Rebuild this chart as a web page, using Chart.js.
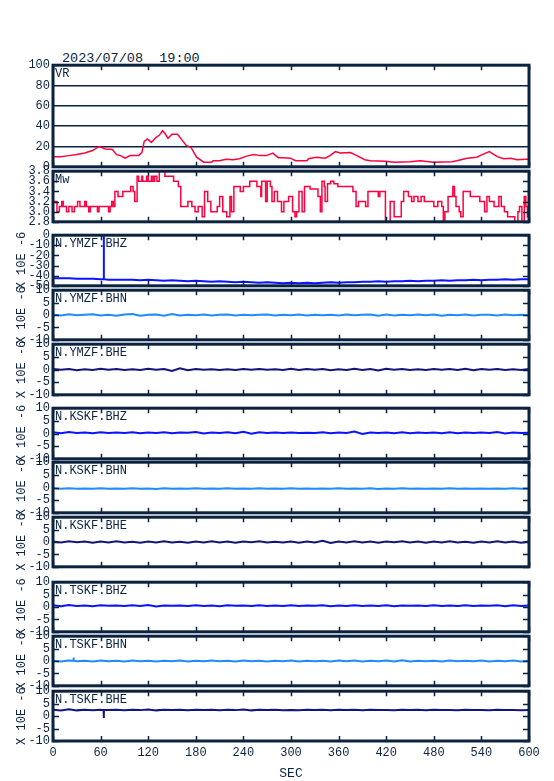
<!DOCTYPE html>
<html>
<head>
<meta charset="utf-8">
<script src="https://cdn.jsdelivr.net/npm/chart.js@4.4.1/dist/chart.umd.min.js"></script>
<style>
  body { margin: 0; background: #fff; width: 554px; height: 781px; position: relative; overflow: hidden; }
  canvas { position: absolute; left: 0; }
  #stamp { position: absolute; left: 62px; top: 51px; font: 13.5px "Liberation Mono", monospace; color: #0b2340; white-space: pre; }
</style>
</head>
<body>
<div id="stamp">2023/07/08  19:00</div>
<script>
// VR (variance reduction, %)
const vrSec = [0, 10, 20, 30, 40, 50, 58, 66, 75, 80, 85, 91, 97, 108, 112, 115, 119, 124, 130, 134,
  138, 141, 145, 150, 157, 162, 168, 174, 181, 190, 200, 202, 210, 218, 227, 235, 244, 253, 261, 269,
  277, 284, 290, 299, 306, 320, 322, 332, 343, 349, 356, 362, 375, 383, 393, 400, 419, 430, 450, 463,
  480, 503, 509, 522, 534, 541, 550, 560, 568, 577, 585, 595, 600];
const vrVal = [10, 10, 11, 12, 13.5, 16, 20, 17.5, 17, 12, 11, 8.5, 11, 11, 14, 25, 27.5, 24, 29, 31,
  35.5, 33, 28, 32, 32, 27, 21, 19, 9.5, 4.5, 4.5, 6, 6, 7.5, 7, 8, 10.5, 12, 11, 11,
  13.5, 9, 9, 8.5, 6, 6, 8, 9.5, 8.5, 11, 15, 13.5, 14, 11, 7, 6, 5.5, 4.5, 5, 6,
  4.5, 5, 6, 8.5, 9.5, 12, 15, 10, 8, 8.5, 7, 7.5, 7.5];

// Mw (stepped: value holds from its time to the next)
const mwSec = [0, 5, 8, 11, 13, 17, 20, 24, 27, 31, 34, 40, 42, 45, 47, 56, 58, 70, 72, 74,
  76, 78, 82, 88, 98, 101, 103, 106, 108, 112, 113, 118, 120, 124, 126, 128, 131, 134, 141, 152,
  158, 161, 170, 175, 179, 183, 188, 191, 195, 199, 207, 210, 214, 219, 223, 225, 228, 236, 240, 248,
  257, 262, 263, 268, 270, 274, 276, 279, 283, 288, 291, 297, 302, 305, 307, 310, 314, 317, 324, 334,
  337, 339, 342, 343, 346, 350, 354, 359, 378, 382, 385, 394, 397, 410, 412, 419, 425, 430, 439, 442,
  448, 452, 455, 460, 464, 468, 480, 485, 490, 492, 494, 498, 504, 506, 508, 512, 514, 517, 526, 538,
  544, 547, 550, 556, 562, 565, 569, 573, 582, 586, 588, 591, 594, 596, 598, 600];
const mwVal = [3.2, 3.0, 3.1, 3.2, 3.1, 3.0, 3.1, 3.0, 3.1, 3.2, 3.1, 3.2, 3.1, 3.0, 3.1, 3.0, 3.1, 3.0, 3.1, 3.2,
  3.1, 3.4, 3.3, 3.4, 3.5, 3.4, 3.2, 3.7, 3.6, 3.7, 3.6, 3.7, 3.6, 3.7, 3.6, 3.7, 3.6, 3.8, 3.7, 3.6,
  3.5, 3.1, 3.2, 3.1, 3.0, 3.1, 2.9, 3.4, 3.2, 3.0, 3.1, 3.3, 3.0, 2.9, 3.3, 3.0, 3.5, 3.4, 3.5, 3.6,
  3.5, 3.3, 3.6, 3.2, 3.6, 3.5, 3.2, 3.4, 3.2, 3.0, 3.2, 3.3, 3.0, 2.9, 3.0, 3.4, 3.0, 3.5, 3.45, 3.3,
  3.0, 3.6, 3.5, 3.2, 3.55, 3.6, 3.55, 3.5, 3.4, 3.1, 3.2, 3.1, 3.4, 3.3, 3.4, 2.8, 3.2, 2.9, 3.2, 3.4,
  3.3, 3.2, 3.3, 3.2, 3.3, 3.2, 3.1, 3.2, 3.1, 2.8, 3.0, 3.3, 3.5, 3.3, 3.1, 3.0, 2.9, 3.4, 3.3, 3.2,
  3.0, 3.3, 3.2, 3.1, 3.3, 3.1, 3.0, 2.9, 2.8, 3.0, 3.1, 2.8, 3.3, 3.1, 2.9, 2.9];

// waveforms, one sample every 10 s from 0 to 600 (x 10E-6)
const waveSec = [0, 10, 20, 30, 40, 50, 60, 70, 80, 90, 100, 110, 120, 130, 140, 150, 160, 170, 180, 190,
  200, 210, 220, 230, 240, 250, 260, 270, 280, 290, 300, 310, 320, 330, 340, 350, 360, 370, 380, 390,
  400, 410, 420, 430, 440, 450, 460, 470, 480, 490, 500, 510, 520, 530, 540, 550, 560, 570, 580, 590, 600];

const ymzfBhz = [-42.5, -42.5, -42.5, -43, -43, -43, -43.5, -44, -44, -44,
  -44, -44.5, -44, -44.5, -45, -44.5, -45, -45.5, -45, -45.5,
  -46, -45.5, -46, -46.5, -46, -46.5, -47, -46.5, -47, -47.5,
  -47, -47.5, -47, -47.5, -47, -46.5, -47, -46.5, -46.5, -46,
  -46, -45.5, -46, -45.5, -45.5, -45, -45.5, -45, -45, -44.5,
  -45, -44.5, -44.5, -44, -44.5, -44, -44, -43.5, -44, -43.5, -43.5];
const ymzfBhzSpikeSec = [63.8, 64, 64.2];
const ymzfBhzSpikeVal = [-43.5, 2, -43.5];

const ymzfBhn = [0.2, -0.2, 0.3, -0.1, 0.1, 0.3, -0.2, 0.1, -0.3, 0.2,
  0.4, -0.3, 0.1, 0.2, -0.3, 0.4, -0.2, 0.1, -0.1, 0.2,
  -0.2, 0.1, 0.2, -0.2, 0.1, -0.1, 0.1, 0.2, -0.2, 0.1,
  -0.1, 0.2, -0.2, 0.1, -0.1, 0.1, -0.2, 0.2, -0.1, 0.1,
  0.2, -0.3, 0.2, -0.2, 0.1, -0.1, 0.2, -0.1, 0.2, -0.3,
  0.1, -0.1, 0.2, -0.2, 0.1, 0.1, -0.2, 0.2, -0.1, 0.1, -0.1];

const ymzfBhe = [0.2, -0.1, 0.2, -0.3, 0.1, -0.2, 0.3, -0.1, 0.2, -0.2,
  0.1, -0.2, 0.3, -0.1, 0.2, -0.6, 0.5, -0.3, 0.2, -0.1,
  0.1, -0.2, 0.1, -0.2, 0.2, -0.1, 0.2, -0.1, 0.1, -0.2,
  0.3, -0.2, 0.2, -0.1, 0.2, -0.3, 0.1, -0.2, 0.3, -0.2,
  0.2, -0.4, 0.3, -0.1, 0.2, -0.2, 0.1, -0.2, 0.2, -0.1,
  0.2, -0.2, 0.3, -0.3, 0.2, -0.1, 0.2, -0.2, 0.1, -0.2, 0.2];

const kskfBhz = [0.5, 0.1, 0.6, 0.2, 0.4, 0.1, 0.5, 0.2, 0.4, 0.2,
  0.5, 0.1, 0.4, 0.2, 0.5, 0.1, 0.4, 0.3, 0.6, 0.0,
  0.4, 0.2, 0.5, 0.1, 0.7, -0.1, 0.5, 0.2, 0.4, 0.2,
  0.4, 0.2, 0.3, 0.2, 0.5, 0.1, 0.4, 0.2, 0.8, -0.2,
  0.4, 0.2, 0.4, 0.1, 0.5, 0.1, 0.4, 0.2, 0.4, 0.1,
  0.5, 0.1, 0.4, 0.2, 0.4, 0.2, 0.6, 0.0, 0.4, 0.2, 0.3];

const kskfBhn = [-0.3, -0.5, -0.3, -0.5, -0.4, -0.5, -0.3, -0.5, -0.4, -0.5,
  -0.3, -0.5, -0.4, -0.6, -0.3, -0.5, -0.4, -0.5, -0.3, -0.5,
  -0.4, -0.5, -0.3, -0.5, -0.4, -0.5, -0.3, -0.5, -0.4, -0.5,
  -0.3, -0.5, -0.4, -0.5, -0.4, -0.5, -0.3, -0.5, -0.4, -0.5,
  -0.3, -0.6, -0.4, -0.5, -0.3, -0.5, -0.4, -0.5, -0.4, -0.5,
  -0.3, -0.5, -0.4, -0.5, -0.4, -0.5, -0.4, -0.5, -0.3, -0.5, -0.4];

const kskfBhe = [0.2, -0.2, 0.3, -0.1, 0.2, -0.3, 0.2, -0.2, 0.3, -0.2,
  0.1, -0.3, 0.2, -0.2, 0.3, -0.2, 0.1, -0.3, 0.2, -0.2,
  0.3, -0.2, 0.2, -0.3, 0.2, -0.1, 0.3, -0.2, 0.1, -0.2,
  0.2, -0.3, 0.2, -0.2, 0.5, -0.4, 0.2, -0.2, 0.3, -0.2,
  0.2, -0.3, 0.2, -0.1, 0.3, -0.2, 0.2, -0.3, 0.2, -0.2,
  0.3, -0.2, 0.1, -0.3, 0.2, -0.2, 0.3, -0.2, 0.2, -0.3, 0.2];

const tskfBhz = [0.7, 0.3, 0.8, 0.4, 0.6, 0.3, 0.7, 0.5, 0.6, 0.4,
  0.7, 0.4, 0.8, 0.2, 0.6, 0.5, 0.6, 0.4, 0.7, 0.4,
  0.6, 0.3, 0.7, 0.5, 0.6, 0.4, 0.7, 0.4, 0.6, 0.4,
  0.7, 0.4, 0.6, 0.5, 0.7, 0.3, 0.6, 0.4, 0.7, 0.4,
  0.6, 0.4, 0.7, 0.3, 0.6, 0.5, 0.6, 0.4, 0.7, 0.4,
  0.6, 0.4, 0.7, 0.4, 0.6, 0.5, 0.7, 0.3, 0.7, 0.4, 0.6];

const tskfBhn = [0.1, -0.2, 0.2, -0.1, 0.1, -0.2, 0.2, -0.1, 0.1, -0.2,
  0.2, -0.1, 0.1, -0.2, 0.1, -0.1, 0.2, -0.2, 0.1, -0.1,
  0.2, -0.1, 0.1, -0.2, 0.2, -0.1, 0.1, -0.2, 0.1, -0.1,
  0.2, -0.2, 0.1, -0.1, 0.1, -0.2, 0.2, -0.1, 0.2, -0.2,
  0.1, -0.1, 0.2, -0.2, 0.3, -0.2, 0.1, -0.1, 0.1, -0.2,
  0.2, -0.1, 0.1, -0.1, 0.2, -0.2, 0.1, -0.1, 0.2, -0.2, 0.1];
const tskfBhnSpikeSec = [25.8, 26, 26.2];
const tskfBhnSpikeVal = [0.1, 1.4, 0.1];

const tskfBhe = [2.6, 2.3, 2.7, 2.3, 2.5, 2.3, 2.5, 2.4, 2.5, 2.3,
  2.5, 2.4, 2.6, 2.3, 2.5, 2.4, 2.5, 2.3, 2.5, 2.4,
  2.5, 2.3, 2.5, 2.4, 2.6, 2.3, 2.5, 2.4, 2.5, 2.3,
  2.4, 2.3, 2.5, 2.4, 2.5, 2.3, 2.5, 2.4, 2.5, 2.3,
  2.5, 2.4, 2.4, 2.3, 2.5, 2.4, 2.5, 2.3, 2.5, 2.4,
  2.4, 2.3, 2.5, 2.4, 2.4, 2.3, 2.5, 2.4, 2.4, 2.3, 2.4];
const tskfBheSpikeSec = [63.8, 64, 64.2];
const tskfBheSpikeVal = [2.4, -0.8, 2.4];

const xTicks = [0, 60, 120, 180, 240, 300, 360, 420, 480, 540, 600];

const FRAME = '#0b2340';
const RED = '#ff0040';
const BHZ = '#0a14ff';
const BHN = '#1e8cff';
const BHE = '#14147d';
const FONT = { family: 'Liberation Mono', size: 12 };

function pts(xs, ys, sx, sy) {
  const out = xs.map((x, i) => ({ x, y: ys[i] }));
  if (sx) sx.forEach((x, i) => out.push({ x, y: sy[i] }));
  return out.sort((a, b) => a.x - b.x);
}

// frame, inward ticks and the station label
const framePlugin = {
  id: 'frame',
  afterDatasetsDraw(chart, args, opts) {
    const { ctx, chartArea: a, scales: { x, y } } = chart;
    ctx.save();
    ctx.strokeStyle = FRAME;
    ctx.lineWidth = 1.5;
    ctx.beginPath();
    x.ticks.forEach(t => {
      const px = Math.round(x.getPixelForValue(t.value)) + 0.5;
      ctx.moveTo(px, a.top); ctx.lineTo(px, a.top + 5);
      ctx.moveTo(px, a.bottom); ctx.lineTo(px, a.bottom - 5);
    });
    if (opts.yTicks) {
      y.ticks.forEach(t => {
        const py = Math.round(y.getPixelForValue(t.value)) + 0.5;
        ctx.moveTo(a.left, py); ctx.lineTo(a.left + 6, py);
        ctx.moveTo(a.right, py); ctx.lineTo(a.right - 6, py);
      });
    }
    ctx.stroke();
    ctx.lineWidth = 3;
    ctx.strokeRect(a.left, a.top, a.right - a.left, a.bottom - a.top);
    ctx.fillStyle = FRAME;
    ctx.font = '12px "Liberation Mono"';
    ctx.textBaseline = 'top';
    ctx.fillText(opts.label, a.left + 2, a.top + 3);
    ctx.restore();
  }
};

const panels = [
  { label: 'VR', top: 65, bottom: 167, data: pts(vrSec, vrVal), color: RED, min: 0, max: 100, step: 20, grid: true, width: 1.5 },
  { label: 'Mw', top: 171, bottom: 222, data: pts(mwSec, mwVal), color: RED, min: 2.8, max: 3.8, step: 0.2, stepped: true, width: 1.5, dec: 1 },
  { label: 'N.YMZF.BHZ', top: 235, bottom: 286, data: pts(waveSec, ymzfBhz, ymzfBhzSpikeSec, ymzfBhzSpikeVal), color: BHZ, min: -50, max: 0, step: 10, unit: true },
  { label: 'N.YMZF.BHN', top: 290, bottom: 340, data: pts(waveSec, ymzfBhn), color: BHN, min: -10, max: 10, step: 5, unit: true },
  { label: 'N.YMZF.BHE', top: 344, bottom: 395, data: pts(waveSec, ymzfBhe), color: BHE, min: -10, max: 10, step: 5, unit: true },
  { label: 'N.KSKF.BHZ', top: 408, bottom: 459, data: pts(waveSec, kskfBhz), color: BHZ, min: -10, max: 10, step: 5, unit: true },
  { label: 'N.KSKF.BHN', top: 462, bottom: 513, data: pts(waveSec, kskfBhn), color: BHN, min: -10, max: 10, step: 5, unit: true },
  { label: 'N.KSKF.BHE', top: 517, bottom: 567, data: pts(waveSec, kskfBhe), color: BHE, min: -10, max: 10, step: 5, unit: true },
  { label: 'N.TSKF.BHZ', top: 582, bottom: 632, data: pts(waveSec, tskfBhz), color: BHZ, min: -10, max: 10, step: 5, unit: true },
  { label: 'N.TSKF.BHN', top: 636, bottom: 686, data: pts(waveSec, tskfBhn, tskfBhnSpikeSec, tskfBhnSpikeVal), color: BHN, min: -10, max: 10, step: 5, unit: true },
  { label: 'N.TSKF.BHE', top: 691, bottom: 741, data: pts(waveSec, tskfBhe, tskfBheSpikeSec, tskfBheSpikeVal), color: BHE, min: -10, max: 10, step: 5, unit: true }
];

panels.forEach((p, i) => {
  const last = i === panels.length - 1;
  const padT = 10;
  const cTop = p.top - padT;
  const cBottom = last ? 781 : p.bottom + 10;
  const cv = document.createElement('canvas');
  cv.width = 554;
  cv.height = cBottom - cTop;
  cv.style.top = cTop + 'px';
  document.body.appendChild(cv);

  new Chart(cv, {
    type: 'line',
    data: {
      datasets: [{
        data: p.data,
        borderColor: p.color,
        borderWidth: p.width || 2,
        pointRadius: 0,
        stepped: p.stepped || false,
        tension: 0
      }]
    },
    options: {
      responsive: false,
      animation: false,
      devicePixelRatio: 1,
      layout: { padding: { top: padT, bottom: last ? 0 : 10, left: 0, right: 25 } },
      plugins: {
        legend: { display: false },
        tooltip: { enabled: false },
        frame: { label: p.label, yTicks: !p.grid }
      },
      scales: {
        x: {
          type: 'linear',
          min: 0,
          max: 600,
          afterBuildTicks: s => { s.ticks = xTicks.map(v => ({ value: v })); },
          afterFit: s => { s.height = last ? 40 : 0; },
          grid: { display: false, drawTicks: false },
          border: { display: false },
          ticks: { display: last, color: FRAME, font: FONT, padding: 5, maxRotation: 0, autoSkip: false },
          title: { display: last, text: 'SEC', color: FRAME, font: { family: 'Liberation Mono', size: 13 }, padding: { top: 0, bottom: 0 } }
        },
        y: {
          min: p.min,
          max: p.max,
          afterFit: s => { s.width = 53; },
          grid: { display: !!p.grid, drawTicks: false, color: FRAME, lineWidth: 1.5 },
          border: { display: false },
          ticks: {
            stepSize: p.step,
            autoSkip: false,
            color: FRAME,
            font: FONT,
            padding: 3,
            callback: v => p.dec ? v.toFixed(p.dec) : String(Math.round(v))
          },
          title: { display: !!p.unit, text: 'X 10E -6', color: FRAME, font: FONT, padding: { top: 15, bottom: 0 } }
        }
      }
    },
    plugins: [framePlugin]
  });
});
</script>
</body>
</html>
